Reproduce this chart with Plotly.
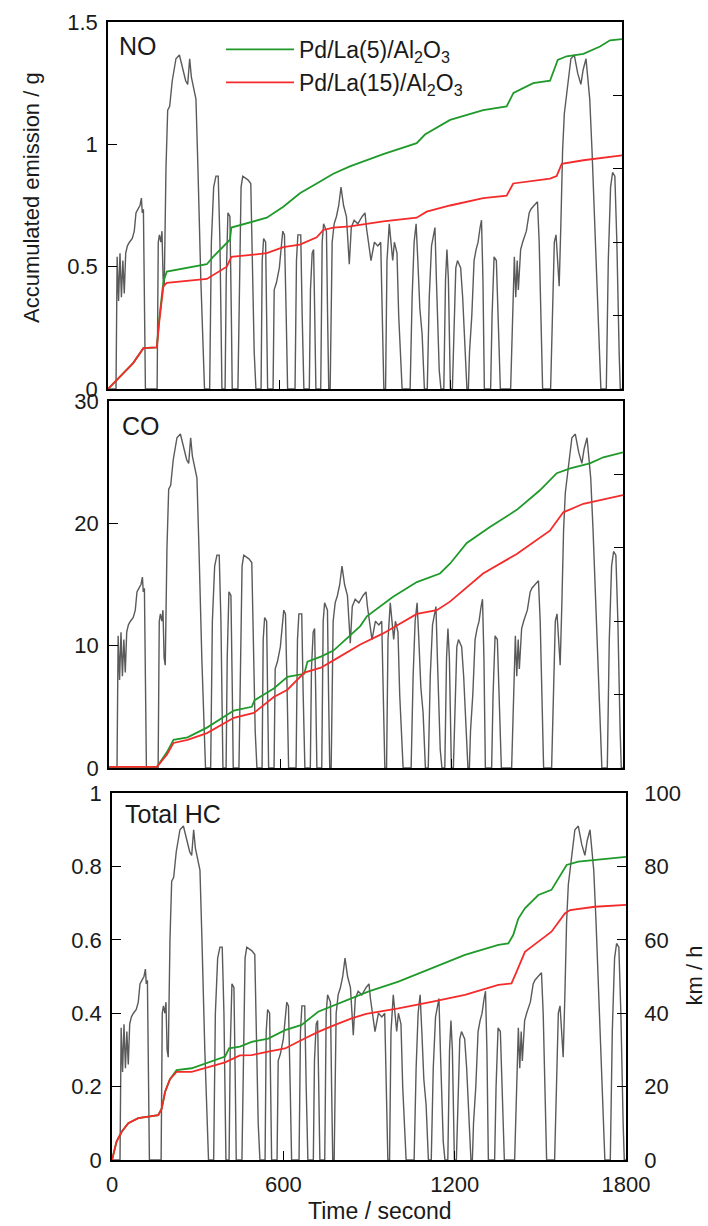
import plotly.graph_objects as go

W, H = 708, 1226

# ---------------- data ----------------
# vehicle speed trace (km/h) shared by all panels
speed_time = [0, 28, 32, 37, 42, 47, 52, 57, 62, 68, 75, 85, 92, 98, 105, 112, 117, 120, 124, 128, 131,
              172, 176, 180, 185, 189, 193, 197, 203, 209, 216, 225, 238, 250, 262, 272, 279, 286, 292, 300, 308, 315, 325, 338,
              356, 362, 370, 378, 386, 392, 399, 410, 414, 420, 427, 432, 435, 455, 460, 466, 472, 490, 500, 505, 512, 518,
              536, 540, 545, 552, 556, 559, 578, 582, 590, 600, 612, 618, 624, 629, 655, 660, 665, 675, 680, 686, 705, 709, 715, 720, 724, 728, 745, 750, 755, 765, 769, 773,
              778, 785, 792, 800, 808, 816, 825, 835, 845, 852, 862, 875, 890, 900, 905, 921, 933, 945, 955, 960, 966, 972, 977, 985, 992, 997, 1003, 1012, 1018, 1030,
              1058, 1065, 1072, 1079, 1085, 1092, 1100, 1105, 1108, 1118, 1125, 1133, 1140, 1145, 1150, 1160, 1166, 1176, 1182, 1187, 1192, 1199, 1206, 1212, 1218, 1224, 1235, 1242, 1250, 1257, 1262, 1266, 1274, 1282, 1289, 1296, 1303, 1308, 1313, 1318,
              1340, 1345, 1352, 1360, 1366, 1374, 1410, 1416, 1423, 1428, 1433, 1437, 1445, 1452, 1465, 1475, 1481, 1492, 1504, 1510, 1516, 1522,
              1550, 1556, 1563, 1569, 1574, 1580, 1586, 1592, 1598, 1606, 1614, 1621, 1633, 1645, 1656, 1664, 1674, 1680, 1687, 1695, 1705, 1715, 1726, 1745, 1752, 1760, 1767, 1775, 1782, 1790, 1794, 1800]
speed_kmh = [0, 0, 36, 24, 37, 25, 35, 26, 37, 39, 40, 41, 43, 48, 49, 50, 52, 48, 49, 20, 0,
             0, 40, 42, 40, 43, 30, 28, 60, 76, 77, 84, 90, 91, 87, 84, 83, 90, 85, 82, 79, 60, 30, 0,
             0, 40, 55, 58, 58, 40, 0, 0, 30, 48, 47, 20, 0, 0, 30, 55, 58, 57, 56, 40, 10, 0,
             0, 35, 41, 40, 20, 0, 0, 27, 29, 33, 43, 42, 20, 0, 0, 35, 42, 42, 20, 0, 0, 27, 37, 38, 20, 0, 0, 40, 45, 43, 20, 0,
             0, 40, 45, 47, 50, 55, 50, 47, 34, 44, 46, 45, 47, 48, 44, 35, 40, 39, 40, 20, 0, 0, 35, 45, 40, 35, 40, 37, 20, 0,
             0, 25, 40, 45, 35, 22, 15, 5, 0, 0, 25, 39, 42, 44, 30, 5, 0, 0, 30, 38, 30, 0, 0, 20, 33, 35, 33, 25, 10, 0, 0, 10, 20, 35, 38, 40, 44, 46, 30, 0,
             0, 20, 36, 35, 20, 0, 0, 20, 36, 25, 35, 27, 38, 40, 43, 48, 49, 50, 51, 40, 15, 0,
             0, 20, 40, 42, 35, 28, 45, 65, 75, 80, 85, 90, 91, 86, 83, 87, 90, 84, 79, 65, 45, 25, 0, 0, 35, 55, 59, 58, 40, 10, 0, 0]

series_names = ["Pd/La(5)/Al<sub>2</sub>O<sub>3</sub>", "Pd/La(15)/Al<sub>2</sub>O<sub>3</sub>"]
panel_labels = ["NO", "CO", "Total HC"]

# NO accumulated emission (g)
no_la5_time = [0, 42, 88, 124, 171, 178, 194, 206, 346, 368, 400, 427, 432, 462, 556, 614, 672, 731, 789, 847,
               964, 1081, 1110, 1198, 1314, 1396, 1420, 1489, 1548, 1575, 1606, 1665, 1723, 1758, 1800]
no_la5 = [0, 0.05, 0.106, 0.167, 0.17, 0.27, 0.44, 0.48, 0.51, 0.54, 0.58, 0.61, 0.66, 0.67, 0.70, 0.745, 0.80, 0.84, 0.88, 0.91,
          0.96, 1.005, 1.04, 1.10, 1.14, 1.155, 1.21, 1.25, 1.26, 1.345, 1.36, 1.37, 1.40, 1.425, 1.43]
no_la15_time = [0, 42, 88, 124, 171, 180, 194, 206, 346, 416, 432, 556, 614, 672, 731, 754, 789, 847, 964, 1081,
                1116, 1198, 1314, 1396, 1419, 1548, 1571, 1589, 1665, 1800]
no_la15 = [0, 0.05, 0.106, 0.167, 0.17, 0.28, 0.42, 0.434, 0.45, 0.50, 0.54, 0.555, 0.58, 0.59, 0.62, 0.65, 0.66, 0.665, 0.685, 0.70,
           0.725, 0.75, 0.78, 0.79, 0.84, 0.86, 0.87, 0.92, 0.935, 0.955]

# CO accumulated emission (g)
co_la5_time = [0, 168, 203, 226, 275, 343, 437, 500, 510, 577, 625, 684, 695, 742, 786, 845, 880, 903, 995, 1078,
               1159, 1194, 1253, 1334, 1428, 1509, 1568, 1615, 1684, 1731, 1800]
co_la5 = [0.1, 0.1, 1.3, 2.3, 2.5, 3.3, 4.7, 5.0, 5.55, 6.5, 7.45, 7.7, 8.7, 9.1, 9.6, 10.9, 11.6, 12.4, 14.0, 15.2,
          15.9, 16.7, 18.4, 19.7, 21.1, 22.7, 24.1, 24.5, 24.9, 25.4, 25.8]
co_la15_time = [0, 168, 203, 226, 275, 343, 437, 507, 577, 625, 684, 742, 786, 845, 880, 960, 1078, 1148, 1194, 1310,
                1428, 1544, 1591, 1661, 1800]
co_la15 = [0.1, 0.1, 1.1, 2.05, 2.3, 2.85, 4.1, 4.5, 5.8, 6.4, 7.8, 8.2, 8.8, 9.6, 10.1, 11.0, 12.6, 12.9, 13.6, 15.9,
           17.5, 19.4, 20.9, 21.6, 22.3]

# Total HC accumulated emission (g)
hc_la5_time = [0, 16, 34, 57, 92, 127, 162, 174, 186, 203, 226, 279, 396, 410, 448, 489, 547, 606, 664, 722,
               781, 839, 897, 1003, 1119, 1178, 1236, 1353, 1388, 1405, 1423, 1446, 1493, 1539, 1563, 1592, 1633, 1691, 1800]
hc_la5 = [0, 0.05, 0.077, 0.10, 0.114, 0.118, 0.122, 0.14, 0.186, 0.22, 0.245, 0.25, 0.282, 0.304, 0.309, 0.322, 0.331, 0.354, 0.368, 0.404,
          0.422, 0.44, 0.459, 0.486, 0.522, 0.54, 0.559, 0.586, 0.59, 0.613, 0.658, 0.686, 0.722, 0.736, 0.768, 0.804, 0.813, 0.817, 0.826]
hc_la15_time = [0, 16, 34, 57, 92, 127, 162, 174, 186, 203, 226, 279, 396, 448, 489, 547, 606, 664, 722, 781,
                839, 890, 1003, 1119, 1236, 1353, 1399, 1417, 1446, 1493, 1539, 1586, 1604, 1691, 1800]
hc_la15 = [0, 0.05, 0.077, 0.10, 0.114, 0.118, 0.122, 0.14, 0.186, 0.22, 0.24, 0.24, 0.266, 0.285, 0.286, 0.295, 0.304, 0.327, 0.349, 0.368,
           0.386, 0.398, 0.413, 0.431, 0.45, 0.477, 0.481, 0.513, 0.567, 0.595, 0.622, 0.672, 0.681, 0.69, 0.695]

time_ticks = [0, 600, 1200, 1800]
no_ticks = [0, 0.5, 1, 1.5]
no_ticktext = ["0", "0.5", "1", "1.5"]
co_ticks = [0, 10, 20, 30]
hc_ticks = [0, 0.2, 0.4, 0.6, 0.8, 1]
hc_ticktext = ["0", "0.2", "0.4", "0.6", "0.8", "1"]
speed_ticks = [0, 20, 40, 60, 80, 100]

# ---------------- style ----------------
GREEN = "#1f9a2a"
RED = "#f52a2a"
GRAY = "#5a5a5a"
FONT = "Liberation Sans, Arial, sans-serif"
TXT = "#1a1a1a"
TICKFS = 22


def fx(p):
    return p / W


def fy(p):
    return 1 - p / H


# pixel frames of the three panels (left, right, top, bottom)
frames = [(108, 622, 22, 389), (109, 623, 401, 768), (112, 626, 793, 1160)]

fig = go.Figure()

emis = [
    (no_la5_time, no_la5, no_la15_time, no_la15),
    (co_la5_time, co_la5, co_la15_time, co_la15),
    (hc_la5_time, hc_la5, hc_la15_time, hc_la15),
]

for i in range(3):
    xa = "x" if i == 0 else f"x{i + 1}"
    ye = "y" if i == 0 else f"y{i + 1}"
    ys = f"y{i + 4}"
    fig.add_trace(go.Scatter(x=speed_time, y=speed_kmh, xaxis=xa, yaxis=ys, mode="lines",
                             line=dict(color=GRAY, width=1.4), showlegend=False, hoverinfo="skip"))
    t5, v5, t15, v15 = emis[i]
    fig.add_trace(go.Scatter(x=t5, y=v5, xaxis=xa, yaxis=ye, mode="lines", name=series_names[0],
                             line=dict(color=GREEN, width=1.8), showlegend=(i == 0), legendgroup="a"))
    fig.add_trace(go.Scatter(x=t15, y=v15, xaxis=xa, yaxis=ye, mode="lines", name=series_names[1],
                             line=dict(color=RED, width=1.8), showlegend=(i == 0), legendgroup="b"))

common = dict(showline=True, linecolor="black", linewidth=1.6, ticks="inside", ticklen=9, tickwidth=1.3,
              tickcolor="black", showgrid=False, zeroline=False, automargin=False,
              tickfont=dict(family=FONT, size=TICKFS, color=TXT))

layout = dict(
    width=W, height=H, margin=dict(l=0, r=0, t=0, b=0, pad=0, autoexpand=False),
    template="none",
    paper_bgcolor="white", plot_bgcolor="white",
    font=dict(family=FONT, color=TXT),
    showlegend=True,
    legend=dict(x=fx(221), y=fy(28), xanchor="left", yanchor="top", bgcolor="rgba(0,0,0,0)",
                borderwidth=0, font=dict(family=FONT, size=23, color=TXT), itemwidth=68, tracegroupgap=0,
                traceorder="normal"),
)

ytick_sets = [(no_ticks, no_ticktext, [0, 1.5]), (co_ticks, [str(v) for v in co_ticks], [0, 30]),
              (hc_ticks, hc_ticktext, [0, 1])]

for i, (l, r, t, b) in enumerate(frames):
    xk = "xaxis" if i == 0 else f"xaxis{i + 1}"
    yek = "yaxis" if i == 0 else f"yaxis{i + 1}"
    ysk = f"yaxis{i + 4}"
    ys = f"y{i + 4}"
    xa = "x" if i == 0 else f"x{i + 1}"
    last = (i == 2)
    layout[xk] = dict(common, domain=[fx(l), fx(r)], anchor=ys, range=[0, 1800], tickvals=time_ticks,
                      showticklabels=last, mirror=True, ticklabelstandoff=4)
    layout[ysk] = dict(common, domain=[fy(b), fy(t)], anchor=xa, side="right", range=[0, 100],
                       tickvals=speed_ticks if last else speed_ticks[1:-1], showticklabels=last,
                       ticklabelstandoff=12)
    tv, tt, rg = ytick_sets[i]
    layout[yek] = dict(common, overlaying=ys, anchor=xa, side="left", range=rg, tickvals=tv, ticktext=tt,
                       mirror=True, ticklabelstandoff=4)

annos = []
label_pos = [(117, 46), (120, 426), (123, 814)]
for lab, (px, py) in zip(panel_labels, label_pos):
    annos.append(dict(x=fx(px), y=fy(py), xref="paper", yref="paper", text=lab, showarrow=False,
                      xanchor="left", yanchor="middle", font=dict(family=FONT, size=25, color=TXT)))
annos.append(dict(x=fx(31), y=fy(198), xref="paper", yref="paper", text="Accumulated emission / g",
                  showarrow=False, textangle=-90, xanchor="center", yanchor="middle",
                  font=dict(family=FONT, size=22, color=TXT)))
annos.append(dict(x=1, y=fy(976), xref="paper", yref="paper", text="km / h",
                  showarrow=False, textangle=-90, xanchor="right", yanchor="middle",
                  font=dict(family=FONT, size=22, color=TXT)))
annos.append(dict(x=fx(380), y=0, xref="paper", yref="paper", text="Time / second",
                  showarrow=False, xanchor="center", yanchor="bottom",
                  font=dict(family=FONT, size=23, color=TXT)))
layout["annotations"] = annos

fig.update_layout(layout)
fig.write_html("out.html")
